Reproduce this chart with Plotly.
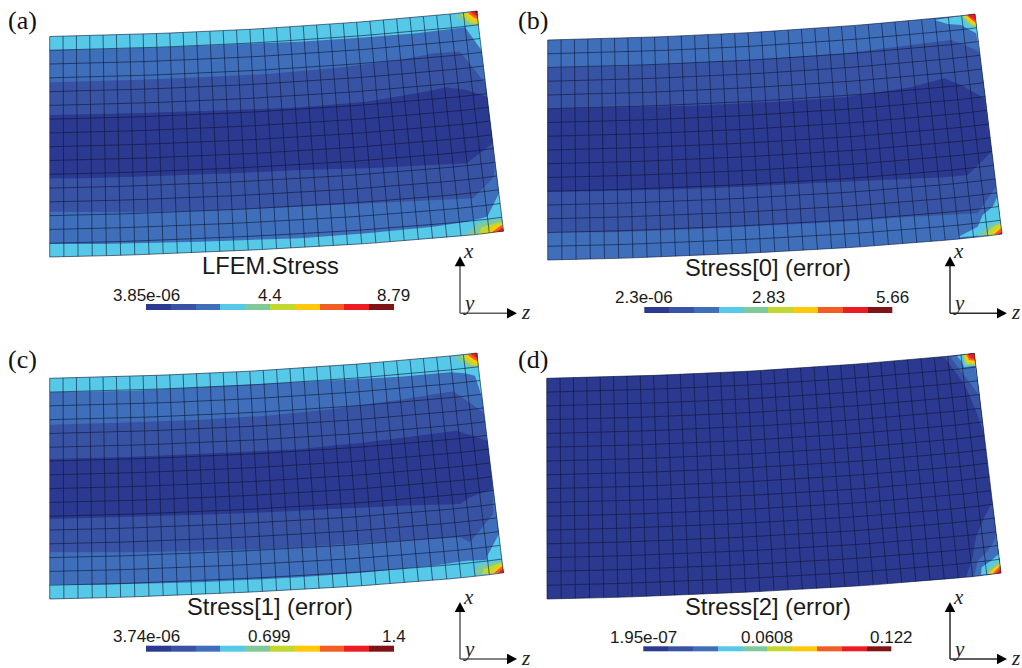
import plotly.graph_objects as go

# ---------- palette of the ten contour levels ----------
LEVEL_COLORS = ["#2B3990", "#3953A4", "#3F6FBA", "#56C8E8", "#80C99B",
                "#C3D82F", "#FFC90A", "#F15D22", "#ED1C24", "#7F1416"]

# ---------- shared mesh shape ----------
TOP_DROP = [0,0.3,0.6,0.9,1.3,1.7,2.1,2.5,3.0,3.5,4.0,4.6,5.2,5.8,6.5,7.2,8.0,8.8,9.6,10.5,
            11.4,12.3,13.3,14.3,15.4,16.5,17.6,18.8,20.0,21.2,22.5,23.9,25.5]
BOT_RISE = [0,0.2,0.5,0.9,1.3,1.7,2.2,2.7,3.2,3.7,4.3,4.9,5.5,6.2,6.9,7.6,8.3,9.0,9.8,10.6,
            11.5,12.4,13.3,14.3,15.4,16.5,17.6,18.8,20.0,21.3,22.6,24.4,26.3]
N_ROWS = 16

# corners of each mesh: top-left, top-right, bottom-right, bottom-left
CORNERS_A = [(49.7, 36.5), (476.7, 11.0), (503.5, 231.0), (49.7, 257.0)]
CORNERS_B = [(547.7, 40.0), (975.0, 14.0), (1002.0, 234.0), (547.7, 260.0)]
CORNERS_C = [(49.7, 378.3), (476.7, 353.0), (503.5, 572.8), (49.7, 599.0)]
CORNERS_D = [(546.7, 378.3), (974.3, 353.3), (1001.0, 573.0), (547.0, 599.0)]

# ---------- contour bands (3x crop coordinates of each panel) ----------
A_L3 = [(150,150),(300,148),(500,142),(700,133),(900,125),(1100,112),(1250,100),(1395,82),(1444,150),(1497,580),(1462,650),(1400,665),(1300,680),(1100,700),(900,715),(600,725),(300,732),(150,732)]
A_L2 = [(150,247),(400,240),(600,232),(800,222),(1000,205),(1200,180),(1300,160),(1380,155),(1456,250),(1478,430),(1484,500),(1482,530),(1420,595),(1380,597),(1200,605),(1000,615),(800,625),(600,632),(400,637),(150,635)]
A_L1 = [(150,345),(400,340),(700,330),(900,322),(1100,305),(1250,280),(1340,262),(1400,270),(1461,290),(1478,430),(1400,490),(1300,495),(1100,505),(900,510),(700,520),(400,530),(250,535),(150,535)]
A_L5 = [(1362,47),(1432,33),(1436,78),(1405,75)]
A_L6 = [(1382,43),(1432,33),(1436,72),(1412,70)]
A_L7 = [(1395,40),(1432,33),(1435,66),(1418,62)]
A_L8 = [(1403,38),(1432,33),(1434,58),(1420,52)]
A_L9 = [(1412,36),(1432,33),(1433,48),(1424,45)]
A_L10 = [(1423,34),(1432,33),(1432,40)]
A_B5 = [(1395,705),(1435,670),(1500,655),(1511,694)]
A_B6 = [(1435,703),(1445,682),(1503,665),(1511,694)]
A_B7 = [(1462,698),(1470,685),(1505,670),(1511,694)]
A_B8 = [(1475,697),(1505,675),(1511,694)]
A_B9 = [(1490,695),(1507,682),(1511,694)]

B_L2 = [(110,203),(350,198),(600,185),(800,175),(1000,160),(1200,135),(1320,120),(1360,135),(1405,155),(1423,290),(1446,480),(1455,560),(1400,640),(1200,650),(1000,665),(800,675),(500,690),(300,697),(110,697)]
B_L1 = [(110,328),(350,322),(550,317),(800,305),(1000,292),(1200,262),(1300,235),(1350,255),(1420,295),(1442,455),(1370,525),(1300,532),(1100,540),(900,550),(700,560),(500,568),(300,573),(110,575)]
B_T4 = [(1270,60),(1392,42),(1405,150),(1395,100),(1350,75),(1310,72)]
B_B4 = [(1340,712),(1400,680),(1415,645),(1445,620),(1459,590),(1473,702)]
B_L5 = [(1350,48),(1392,42),(1398,85),(1375,78)]
B_L6 = [(1355,48),(1392,42),(1396,80),(1378,72)]
B_L7 = [(1362,47),(1392,42),(1395,74),(1383,68)]
B_L8 = [(1366,46),(1392,42),(1394,68),(1385,62)]
B_L9 = [(1370,45),(1392,42),(1393,60),(1385,56)]
B_B5 = [(1400,707),(1430,680),(1466,665),(1473,702)]
B_B6 = [(1425,705),(1440,685),(1468,670),(1473,702)]
B_B7 = [(1440,703),(1468,678),(1473,702)]
B_B8 = [(1450,702),(1470,685),(1473,702)]
B_B9 = [(1460,702),(1472,695),(1473,702)]

C_L3 = [(150,175),(400,170),(600,160),(800,150),(1000,140),(1200,128),(1350,115),(1395,118),(1425,125),(1446,190),(1480,465),(1497,600),(1462,665),(1460,678),(1400,680),(1300,695),(1100,715),(900,730),(600,745),(300,752),(150,752)]
C_L2 = [(150,272),(400,265),(600,257),(800,245),(1000,225),(1200,197),(1360,172),(1450,235),(1478,465),(1480,540),(1410,625),(1380,610),(1200,620),(1000,632),(800,645),(600,650),(400,655),(150,655)]
C_L1 = [(150,375),(400,368),(700,355),(900,345),(1100,325),(1250,305),(1370,290),(1462,320),(1478,465),(1410,490),(1380,510),(1200,515),(1000,525),(800,535),(600,542),(400,548),(150,555)]
C_L5 = [(1362,71),(1432,57),(1436,100),(1405,98)]
C_L6 = [(1382,67),(1432,57),(1436,95),(1412,93)]
C_L7 = [(1395,64),(1432,57),(1435,90),(1418,86)]
C_L8 = [(1403,62),(1432,57),(1434,82),(1420,76)]
C_L9 = [(1412,60),(1432,57),(1433,72),(1424,69)]
C_B5 = [(1420,722),(1435,695),(1502,680),(1511,716)]
C_B6 = [(1445,720),(1452,705),(1504,685),(1511,716)]
C_B7 = [(1470,718),(1505,690),(1511,716)]
C_B8 = [(1482,717),(1507,696),(1511,716)]
C_B9 = [(1495,716),(1509,704),(1511,716)]

D_T2 = [(1300,70),(1390,58),(1405,180),(1419,300),(1395,230),(1360,150)]
D_T3 = [(1318,68),(1390,58),(1405,185),(1380,150),(1345,105)]
D_T4 = [(1338,66),(1390,58),(1398,140),(1392,95),(1360,100),(1350,80)]
D_T5 = [(1353,64),(1390,58),(1395,96),(1362,94)]
D_T6 = [(1357,64),(1390,58),(1394,92),(1366,90)]
D_T7 = [(1362,63),(1390,58),(1393,88),(1370,85)]
D_T8 = [(1366,62),(1390,58),(1393,80),(1374,78)]
D_T9 = [(1370,60),(1390,58),(1392,75),(1378,72)]
D_B2 = [(1444,505),(1470,717),(1365,730),(1385,670),(1395,610),(1420,550)]
D_B3 = [(1456,600),(1470,717),(1390,725),(1400,680),(1430,650),(1445,630)]
D_B4 = [(1463,660),(1470,717),(1410,722),(1412,700),(1440,680)]
D_B5 = [(1425,720),(1435,700),(1464,680),(1470,717)]
D_B7 = [(1432,720),(1445,705),(1466,690),(1470,717)]
D_B8 = [(1445,719),(1467,695),(1470,717)]
D_B9 = [(1455,718),(1468,703),(1470,717)]

# ---------- titles, colour-bar labels ----------
TITLES = ["LFEM.Stress", "Stress[0] (error)", "Stress[1] (error)", "Stress[2] (error)"]
TITLE_XY = [(270, 265.7), (768, 268.3), (270, 607.3), (767.7, 607.3)]
PANEL_TAGS = ["(a)", "(b)", "(c)", "(d)"]
TAG_XY = [(22.5, 20.5), (533, 20), (22.5, 359), (533, 359)]
BAR_TICKS_A = ["3.85e-06", "4.4", "8.79"]
BAR_TICKS_B = ["2.3e-06", "2.83", "5.66"]
BAR_TICKS_C = ["3.74e-06", "0.699", "1.4"]
BAR_TICKS_D = ["1.95e-07", "0.0608", "0.122"]
BAR_X = [(146.0, 393.7), (644.3, 892.0), (146.0, 393.7), (643.3, 891.0)]
BAR_Y = [(304.0, 310.0), (307.0, 312.5), (645.7, 651.3), (646.3, 651.7)]
BAR_TICK_Y = [295.0, 297.3, 636.7, 637.0]

# ---------- coordinate triads: origin, up tip, right tip ----------
TRIAD_O = [(460, 313.3), (950, 313.3), (460, 659), (950, 659)]
TRIAD_LEN_UP = [57, 57, 57, 57]
TRIAD_LEN_RIGHT = [57, 57, 57, 57]
TRIAD_COLORS = ["#5a5a5a", "#2a2a2a", "#5a5a5a", "#2a2a2a"]

CROP_ORIGINS = [(0, 0), (511, 0), (0, 334), (511, 334)]


def to_px(poly, crop):
    return [crop[0] + p[0] / 3 for p in poly], [crop[1] + p[1] / 3 for p in poly]


fig = go.Figure()


def add_poly(xs, ys, color):
    fig.add_trace(go.Scatter(x=list(xs) + [xs[0]], y=list(ys) + [ys[0]], mode="lines",
                             fill="toself", fillcolor=color, line=dict(width=0, color=color),
                             hoverinfo="skip", showlegend=False))


def nodes(corners):
    (tlx, tly), (trx, try_), (brx, bry), (blx, bly) = corners
    n = len(TOP_DROP) - 1
    top = [(tlx + (trx - tlx) * k / n, tly + (try_ - tly) * TOP_DROP[k] / TOP_DROP[-1]) for k in range(n + 1)]
    bot = [(blx + (brx - blx) * k / n, bly + (bry - bly) * BOT_RISE[k] / BOT_RISE[-1]) for k in range(n + 1)]
    return top, bot


def draw_panel(corners, base_level, crop, bands):
    top, bot = nodes(corners)
    outline = top + bot[::-1]
    add_poly([p[0] for p in outline], [p[1] for p in outline], LEVEL_COLORS[base_level])
    for poly, level in bands:
        xs, ys = to_px(poly, crop)
        add_poly(xs, ys, LEVEL_COLORS[level])
    mx, my = [], []
    for t, b in zip(top, bot):
        mx += [t[0], b[0], None]
        my += [t[1], b[1], None]
    for r in range(N_ROWS + 1):
        v = r / N_ROWS
        for t, b in zip(top, bot):
            mx.append(t[0] + (b[0] - t[0]) * v)
            my.append(t[1] + (b[1] - t[1]) * v)
        mx.append(None)
        my.append(None)
    fig.add_trace(go.Scatter(x=mx, y=my, mode="lines", hoverinfo="skip", showlegend=False,
                             line=dict(color="rgba(12,22,50,0.75)", width=0.8)))


draw_panel(CORNERS_A, 3, CROP_ORIGINS[0],
           [(A_L3, 2), (A_L2, 1), (A_L1, 0), (A_L5, 4), (A_L6, 5), (A_L7, 6), (A_L8, 7), (A_L9, 8), (A_L10, 9),
            (A_B5, 4), (A_B6, 5), (A_B7, 6), (A_B8, 7), (A_B9, 8)])
draw_panel(CORNERS_B, 2, CROP_ORIGINS[1],
           [(B_L2, 1), (B_L1, 0), (B_T4, 3), (B_B4, 3), (B_L5, 4), (B_L6, 5), (B_L7, 6), (B_L8, 7), (B_L9, 8),
            (B_B5, 4), (B_B6, 5), (B_B7, 6), (B_B8, 7), (B_B9, 8)])
draw_panel(CORNERS_C, 3, CROP_ORIGINS[2],
           [(C_L3, 2), (C_L2, 1), (C_L1, 0), (C_L5, 4), (C_L6, 5), (C_L7, 6), (C_L8, 7), (C_L9, 8),
            (C_B5, 4), (C_B6, 5), (C_B7, 6), (C_B8, 7), (C_B9, 8)])
draw_panel(CORNERS_D, 0, CROP_ORIGINS[3],
           [(D_T2, 1), (D_T3, 2), (D_T4, 3), (D_T5, 4), (D_T6, 5), (D_T7, 6), (D_T8, 7), (D_T9, 8),
            (D_B2, 1), (D_B3, 2), (D_B4, 3), (D_B5, 4), (D_B7, 6), (D_B8, 7), (D_B9, 8)])

# colour bars
n_lv = len(LEVEL_COLORS)
scale = []
for i, c in enumerate(LEVEL_COLORS):
    scale += [[i / n_lv, c], [(i + 1) / n_lv, c]]
annotations = []


def note(x, y, text, size, family="Liberation Sans", color="#1a1a1a"):
    annotations.append(dict(x=x, y=y, xref="x", yref="y", text=text, showarrow=False,
                            xanchor="center", yanchor="middle",
                            font=dict(size=size, family=family, color=color)))


all_ticks = [BAR_TICKS_A, BAR_TICKS_B, BAR_TICKS_C, BAR_TICKS_D]
for i in range(4):
    x0, x1 = BAR_X[i]
    edges = [x0 + (x1 - x0) * k / n_lv for k in range(n_lv + 1)]
    fig.add_trace(go.Heatmap(x=edges, y=list(BAR_Y[i]), z=[list(range(n_lv))], zmin=-0.5, zmax=n_lv - 0.5,
                             colorscale=scale, showscale=False, hoverinfo="skip"))
    for tick, px in zip(all_ticks[i], (x0, (x0 + x1) / 2, x1)):
        note(px, BAR_TICK_Y[i], tick, 17)
    note(TITLE_XY[i][0], TITLE_XY[i][1], TITLES[i], 23.7)
    note(TAG_XY[i][0], TAG_XY[i][1], PANEL_TAGS[i], 26, "Liberation Serif", "#111111")

    ox, oy = TRIAD_O[i]
    up, rt = TRIAD_LEN_UP[i], TRIAD_LEN_RIGHT[i]
    col = TRIAD_COLORS[i]
    fig.add_trace(go.Scatter(x=[ox, ox, None, ox, ox + rt - 8], y=[oy - up + 8, oy, None, oy, oy], mode="lines",
                             line=dict(color=col, width=1.5), hoverinfo="skip", showlegend=False))
    add_poly([ox, ox - 5.3, ox + 5.3], [oy - up, oy - up + 10, oy - up + 10], "#000000")
    add_poly([ox + rt, ox + rt - 10, ox + rt - 10], [oy, oy - 5.3, oy + 5.3], "#000000")
    note(ox + 8, oy - 62.5, "<i>x</i>", 21, "Liberation Serif", "#222222")
    note(ox + 9, oy - 10.5, "<i>y</i>", 21, "Liberation Serif", "#222222")
    note(ox + 65.5, oy - 1, "<i>z</i>", 21, "Liberation Serif", "#222222")

fig.update_layout(width=1022, height=668, autosize=False, margin=dict(l=0, r=0, t=0, b=0),
                  paper_bgcolor="white", plot_bgcolor="white", showlegend=False,
                  annotations=annotations,
                  xaxis=dict(range=[0, 1022], visible=False, fixedrange=True),
                  yaxis=dict(range=[668, 0], visible=False, fixedrange=True))

fig.write_html("out.html", config={"displayModeBar": False},
               post_script="document.body.style.margin='0';document.body.style.overflow='hidden';")
